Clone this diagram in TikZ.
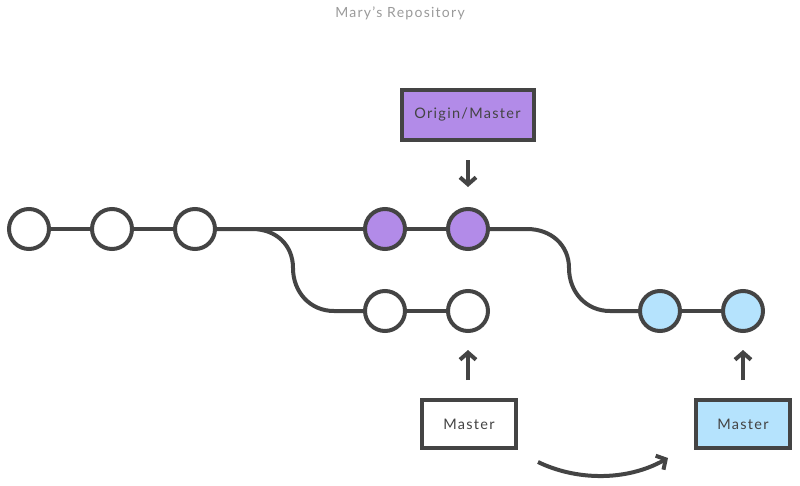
\documentclass[tikz,border=0pt]{standalone}
\usepackage{fontspec}
\setmainfont{Lato}[LetterSpace=9]
\usetikzlibrary{arrows.meta}
\definecolor{ink}{HTML}{444444}
\definecolor{purp}{HTML}{B28BE8}
\definecolor{lblue}{HTML}{B5E3FD}
\definecolor{titlegray}{HTML}{9A9A9A}
\begin{document}
\begin{tikzpicture}[x=1pt,y=-1pt,
  commit/.style={circle,draw=ink,line width=4pt,minimum size=40pt,inner sep=0pt,fill=white},
  label box/.style={draw=ink,line width=4pt,minimum width=94pt,minimum height=48pt,inner sep=0pt,font=\fontsize{14.5}{17}\selectfont,text=ink},
  edge/.style={draw=ink,line width=4pt},
  pointer/.style={draw=ink,line width=4pt,-{Straight Barb[length=7pt,width=16pt,line width=4pt]}}]
\useasboundingbox (0,0) rectangle (800,485);
\node[font=\fontsize{14}{16}\selectfont,text=titlegray] (title) at (400,13) {Mary’s Repository};
% commits
\node[commit] (c1) at (29,229) {};
\node[commit] (c2) at (112,229) {};
\node[commit] (c3) at (195,229) {};
\node[commit,fill=purp] (p1) at (385,229) {};
\node[commit,fill=purp] (p2) at (468,229) {};
\node[commit] (m1) at (385,311) {};
\node[commit] (m2) at (468,311) {};
\node[commit,fill=lblue] (b1) at (660,311) {};
\node[commit,fill=lblue] (b2) at (743,311) {};
% edges
\draw[edge] (c1) -- (c2);
\draw[edge] (c2) -- (c3);
\draw[edge] (c3) -- (p1);
\draw[edge] (p1) -- (p2);
\draw[edge] (m1) -- (m2);
\draw[edge] (b1) -- (b2);
\draw[edge] (c3.east) -- (252,229) .. controls (276,229) and (293,245) .. (293,268)
  .. controls (293,292) and (310,311) .. (334,311) -- (m1.west);
\draw[edge] (p2.east) -- (527,229) .. controls (551,229) and (569,245) .. (569,268)
  .. controls (569,292) and (586,311) .. (610,311) -- (b1.west);
% boxes
\node[label box,fill=purp,minimum width=132pt,minimum height=50pt] (om) at (467.5,114.5) {Origin/Master};
\node[label box,fill=white] (mst) at (469,424) {Master};
\node[label box,fill=lblue] (mstb) at (743,424) {Master};
% pointers
\coordinate (a1s) at (468,160);
\coordinate (a1e) at (468,187);
\coordinate (a2s) at (468,380);
\coordinate (a2e) at (468,350);
\coordinate (a3s) at (743,380);
\coordinate (a3e) at (743,350);
\draw[pointer] (a1s) -- (a1e);
\draw[pointer] (a2s) -- (a2e);
\draw[pointer] (a3s) -- (a3e);
\coordinate (cs) at (538,462);
\coordinate (ce) at (668,458);
\draw[pointer] (cs) .. controls (575,480) and (625,482) .. (ce);
\end{tikzpicture}
\end{document}
